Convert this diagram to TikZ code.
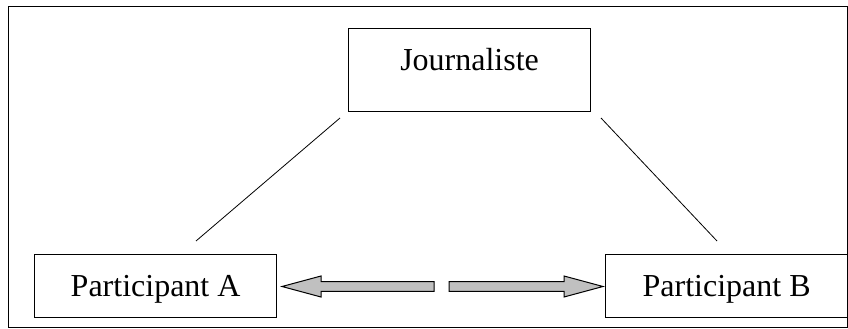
\documentclass[tikz,border=0pt]{standalone}
\usepackage{fontspec}
\setmainfont{Liberation Serif}
\begin{document}
\begin{tikzpicture}[x=1pt,y=-1pt,
  box/.style={draw,line width=1.2pt,inner sep=0pt,minimum width=242pt,anchor=north west,
    font=\fontsize{32}{38}\selectfont},
  link/.style={line width=0.8pt},
  blockarrow/.style={draw,line width=1pt,fill={rgb,255:red,192;green,192;blue,192},line join=miter}]
\useasboundingbox (0,0) rectangle (848,329);
\draw[line width=1pt] (8,7) rectangle (847.3,327);
\node[box,text height=41.5pt,text depth=41.5pt] (J) at (348,28) {Journaliste};
\node[box,text height=41.6pt,text depth=21.4pt] (A) at (34,254) {Participant A};
\node[box,text height=41.6pt,text depth=21.4pt] (B) at (605,254) {Participant B};
\coordinate (l1) at (340,118);
\coordinate (l2) at (196,241);
\coordinate (r1) at (601,118);
\coordinate (r2) at (717,241);
\draw[link] (l1) -- (l2);
\draw[link] (r1) -- (r2);
\path[blockarrow] (282,286.5) -- (321,276) -- (321,281.7) -- (434,281.7) -- (434,291.3) -- (321,291.3) -- (321,297) -- cycle;
\path[blockarrow] (603,286.5) -- (564,276) -- (564,281.7) -- (449,281.7) -- (449,291.3) -- (564,291.3) -- (564,297) -- cycle;
\end{tikzpicture}
\end{document}
